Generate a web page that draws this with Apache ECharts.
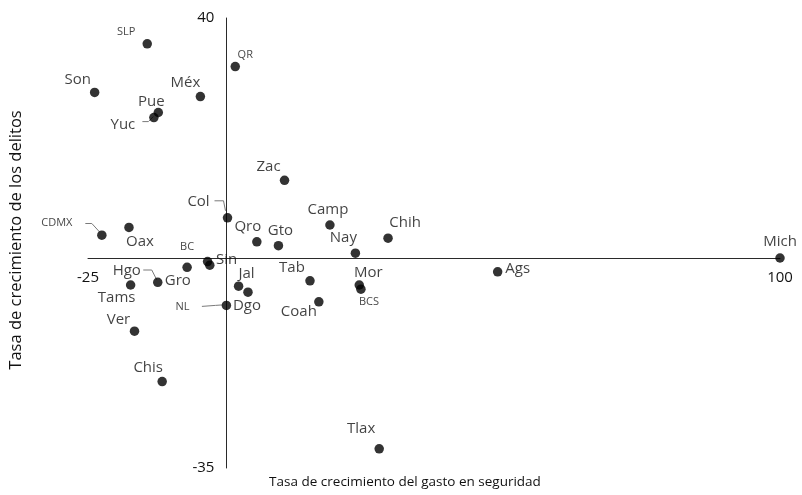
<!DOCTYPE html>
<html>
<head>
<meta charset="utf-8">
<script src="https://cdn.jsdelivr.net/npm/echarts@6/dist/echarts.min.js"></script>
<style>html,body{margin:0;padding:0;background:#fff}#c{width:802px;height:495px}</style>
</head>
<body>
<div id="c"></div>
<script>
// ---- data ----
const states = ['SLP','QR','Son','Méx','Pue','Yuc','Zac','Col','CDMX','Oax','Qro','Gto','Camp','Chih','Nay','Mich','Ags','BC','Sin','Gro','Hgo','Tams','Jal','Dgo','NL','Tab','Mor','BCS','Coah','Ver','Chis','Tlax'];
const gasto = [-14.3, 1.6, -23.8, -4.7, -12.3, -13.1, 10.5, 0.2, -22.5, -17.6, 5.5, 9.4, 18.7, 29.2, 23.3, 100, 49.0, -7.1, -3.4, -3.0, -12.4, -17.3, 2.2, 3.9, 0.0, 15.1, 24.0, 24.3, 16.7, -16.6, -11.6, 27.6];
const delitos = [35.7, 31.9, 27.6, 26.9, 24.25, 23.4, 12.95, 6.7, 3.8, 5.1, 2.7, 2.05, 5.5, 3.3, 0.8, 0.0, -2.3, -1.55, -0.6, -1.2, -4.05, -4.5, -4.7, -5.7, -7.9, -3.8, -4.5, -5.2, -7.3, -12.2, -20.6, -31.8];
const xTickLabels = [-25, 100];
const yTickLabels = [-35, 40];
const xName = 'Tasa de crecimiento del gasto en seguridad';
const yName = 'Tasa de crecimiento de los delitos';

// ---- label styling (offsets in px, relative to point) ----
const labelOffset = {
  SLP:[-21,-12], QR:[10,-12], Son:[-17,-13], 'Méx':[-15,-14], Pue:[-7,-11], Yuc:[-31,7],
  Zac:[-16,-14], Col:[-29,-16], CDMX:[-45,-12], Oax:[11,14], Qro:[-9,-15], Gto:[2,-15],
  Camp:[-2,-15], Chih:[17,-15], Nay:[-12,-15], Mich:[0,-16], Ags:[20,-3], BC:[0,-20],
  Sin:[19,-2], Gro:[-32,16], Hgo:[-31,-12], Tams:[-14,13], Jal:[8,-12], Dgo:[-1,14],
  NL:[-44,1], Tab:[-18,-13], Mor:[9,-12], BCS:[8,13], Coah:[-20,10], Ver:[-16,-11],
  Chis:[-14,-14], Tlax:[-18,-20]
};
const smallLabels = ['SLP','QR','CDMX','BC','NL','BCS'];
// leader line geometry in px relative to the point: label end -> elbow -> near point
const leaderShape = {
  Yuc: [[-11.5,4],[-5.5,4],[-0.5,-1]],
  Col: [[-13,-17],[-4,-17],[-2,-7]],
  CDMX: [[-16.5,-11.7],[-10,-11.7],[-2.5,-3.5]],
  Hgo: [[-14.5,-12.3],[-6,-12.3],[-1,-2.5]],
  NL: [[-24.5,1],[-11,0],[-4,-0.5]]
};
const FONT = 'Open Sans';
const TXT = '#111111';

const points = states.map((s, i) => ({
  name: s,
  value: [gasto[i], delitos[i]],
  label: {
    offset: labelOffset[s] || [0, -14],
    fontSize: smallLabels.includes(s) ? 11 : 15
  }
}));
const leaderStates = Object.keys(leaderShape);
const leaderData = leaderStates.map(s => {
  const i = states.indexOf(s);
  return { name: s, value: [gasto[i], delitos[i]] };
});

const chart = echarts.init(document.getElementById('c'), null, { renderer: 'canvas' });
function build(xMargin, yMargin) {
  return {
    animation: false,
    backgroundColor: '#ffffff',
    textStyle: { fontFamily: FONT },
    grid: { left: 88, right: 22, top: 18, bottom: 27, containLabel: false },
    xAxis: {
      type: 'value', min: -25, max: 100, interval: 25,
      axisLine: { onZero: true, lineStyle: { color: '#2a2a2a', width: 1 } },
      axisTick: { show: false },
      splitLine: { show: false },
      axisLabel: {
        margin: xMargin, fontSize: 15, color: TXT, fontFamily: FONT,
        showMinLabel: true, showMaxLabel: true,
        formatter: v => xTickLabels.includes(v) ? String(v) : ''
      }
    },
    yAxis: {
      type: 'value', min: -35, max: 40, interval: 5,
      axisLine: { onZero: true, lineStyle: { color: '#2a2a2a', width: 1 } },
      axisTick: { show: false },
      splitLine: { show: false },
      axisLabel: {
        margin: yMargin, fontSize: 15, color: TXT, fontFamily: FONT,
        showMinLabel: true, showMaxLabel: true,
        formatter: v => yTickLabels.includes(v) ? String(v) : ''
      }
    },
    graphic: [
      { type: 'text', x: 405, y: 482, style: { text: xName, fontSize: 13.5, fontFamily: FONT, fill: TXT, textAlign: 'center', textVerticalAlign: 'middle' } },
      { type: 'text', x: 16, y: 240, rotation: Math.PI / 2, style: { text: yName, fontSize: 16.5, fontFamily: FONT, fill: TXT, textAlign: 'center', textVerticalAlign: 'middle' } }
    ],
    series: [{
      type: 'custom',
      coordinateSystem: 'cartesian2d',
      silent: true,
      z: 1,
      data: leaderData,
      renderItem: function (params, api) {
        const p = api.coord([api.value(0), api.value(1)]);
        const shape = leaderShape[leaderStates[params.dataIndex]];
        return {
          type: 'polyline',
          shape: { points: shape.map(d => [p[0] + d[0], p[1] + d[1]]) },
          style: { stroke: '#7a7a7a', lineWidth: 1, fill: null }
        };
      }
    }, {
      type: 'scatter',
      symbol: 'circle',
      symbolSize: 9.5,
      z: 2,
      itemStyle: { color: '#000000' },
      label: {
        show: true, position: 'inside', formatter: '{b}',
        color: TXT, fontFamily: FONT, fontSize: 15
      },
      data: points
    }]
  };
}
chart.setOption(build(12, 12));
// move the min/max tick labels next to the axis lines that cross at zero
const zero = chart.convertToPixel({ gridIndex: 0 }, [0, 0]);
const bottomY = chart.convertToPixel({ yAxisIndex: 0 }, -35);
const leftX = chart.convertToPixel({ xAxisIndex: 0 }, -25);
chart.setOption(build((zero[1] + 12) - bottomY, leftX - (zero[0] - 12)));
</script>
</body>
</html>
